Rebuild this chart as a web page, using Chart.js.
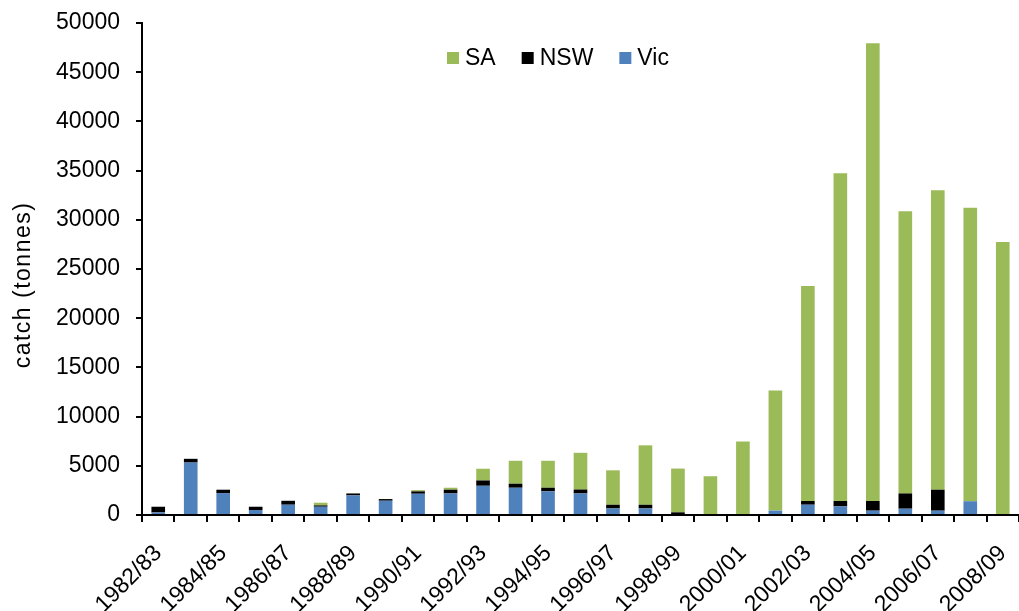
<!DOCTYPE html>
<html>
<head>
<meta charset="utf-8">
<title>Catch by state</title>
<script src="https://cdn.jsdelivr.net/npm/chart.js@4/dist/chart.umd.min.js"></script>
<style>
  html, body { margin: 0; padding: 0; background: #fff; }
  #wrap { width: 1019px; height: 611px; }
</style>
</head>
<body>
<div id="wrap"><canvas id="catch-chart" width="1019" height="611"></canvas></div>
<script>
/* ==========================================================
   Catch (tonnes) by state — stacked bars
   ========================================================== */

// ── Data ────────────────────────────────────────────────────
const seasons = [
  '1982/83', '1983/84', '1984/85', '1985/86', '1986/87', '1987/88',
  '1988/89', '1989/90', '1990/91', '1991/92', '1992/93', '1993/94',
  '1994/95', '1995/96', '1996/97', '1997/98', '1998/99', '1999/00',
  '2000/01', '2001/02', '2002/03', '2003/04', '2004/05', '2005/06',
  '2006/07', '2007/08', '2008/09'
];

const vic = [
  260, 5330, 2230, 510, 1045, 840, 1990, 1450, 2160, 2190, 2970, 2770,
  2400, 2190, 665, 665, 0, 0, 0, 450, 1045, 870, 440, 640, 440, 1400, 0
];

const nsw = [
  580, 380, 340, 330, 400, 135, 200, 170, 240, 380, 540, 410,
  370, 400, 375, 375, 270, 0, 0, 0, 375, 550, 980, 1550, 2130, 0, 0
];

const sa = [
  0, 0, 0, 0, 0, 275, 0, 0, 130, 200, 1190, 2330,
  2740, 3730, 3500, 6040, 4450, 3940, 7460, 12200, 21850, 33300, 46520,
  28670, 30430, 29830, 27740
];

const yTicks = [0, 5000, 10000, 15000, 20000, 25000, 30000, 35000, 40000, 45000, 50000];
const yTitle = 'catch (tonnes)';

(function () {
  'use strict';

  const FONT = "'Liberation Sans', Arial, sans-serif";
  const canvas = document.getElementById('catch-chart');

  const bar = (label, data, color) => ({
    label,
    data,
    backgroundColor: color,
    borderWidth: 0,
    barPercentage: 0.42,
    categoryPercentage: 1,
  });

  // ── Legend in one row inside the plot + spaced y title ─────
  const extras = {
    id: 'extras',
    afterDraw(chart) {
      const { ctx, chartArea } = chart;
      const items = chart.data.datasets.slice().reverse();
      ctx.save();
      ctx.font = '23px ' + FONT;
      ctx.textBaseline = 'middle';
      ctx.textAlign = 'left';
      let x = chartArea.left + 305;
      const y = chartArea.top + 35;
      items.forEach(ds => {
        ctx.fillStyle = ds.backgroundColor;
        ctx.fillRect(x, y - 6, 12, 12);
        ctx.fillStyle = '#000';
        ctx.fillText(ds.label, x + 18, y + 1);
        x += 18 + ctx.measureText(ds.label).width + 26;
      });
      ctx.restore();

      // axis title, rotated
      ctx.save();
      ctx.font = '23px ' + FONT;
      ctx.letterSpacing = '1.5px';
      ctx.fillStyle = '#000';
      ctx.textAlign = 'center';
      ctx.textBaseline = 'middle';
      ctx.translate(24, chartArea.top + 262);
      ctx.rotate(-Math.PI / 2);
      ctx.fillText(yTitle, 0, 0);
      ctx.restore();
    }
  };

  new Chart(canvas, {
    type: 'bar',
    data: {
      labels: seasons,
      datasets: [
        bar('Vic', vic, '#4F81BD'),
        bar('NSW', nsw, '#000000'),
        bar('SA',  sa,  '#9BBB59'),
      ]
    },
    plugins: [extras],
    options: {
      responsive: false,
      animation: false,
      layout: { padding: { top: 23, right: 0, bottom: 0, left: 0 } },
      plugins: {
        tooltip: { enabled: false },
        legend: { display: false }
      },
      scales: {
        x: {
          stacked: true,
          afterFit: axis => {
            axis.height = 96;
            axis.paddingRight = 0;
            axis.paddingLeft = 0;
          },
          grid: {
            display: true,
            offset: true,
            drawOnChartArea: false,
            color: '#000',
            tickLength: 7,
            lineWidth: 2
          },
          border: { color: '#000', width: 2 },
          ticks: {
            color: '#000',
            autoSkip: false,
            maxRotation: 45,
            minRotation: 45,
            padding: 18,
            font: { family: FONT, size: 23 },
            callback: (v, i) => (i % 2 === 0 ? seasons[i] : '')
          }
        },
        y: {
          stacked: true,
          min: yTicks[0],
          max: yTicks[yTicks.length - 1],
          afterFit: axis => {
            axis.width = 142;
            axis.paddingTop = 0;
            axis.paddingBottom = 0;
          },
          afterBuildTicks: axis => { axis.ticks = yTicks.map(v => ({ value: v })); },
          grid: {
            display: true,
            drawOnChartArea: false,
            color: '#000',
            tickLength: 6,
            lineWidth: 2
          },
          border: { color: '#000', width: 2 },
          ticks: {
            color: '#000',
            padding: 16,
            font: { family: FONT, size: 23 },
            callback: v => String(v)
          }
        }
      }
    }
  });

})();
</script>
</body>
</html>
